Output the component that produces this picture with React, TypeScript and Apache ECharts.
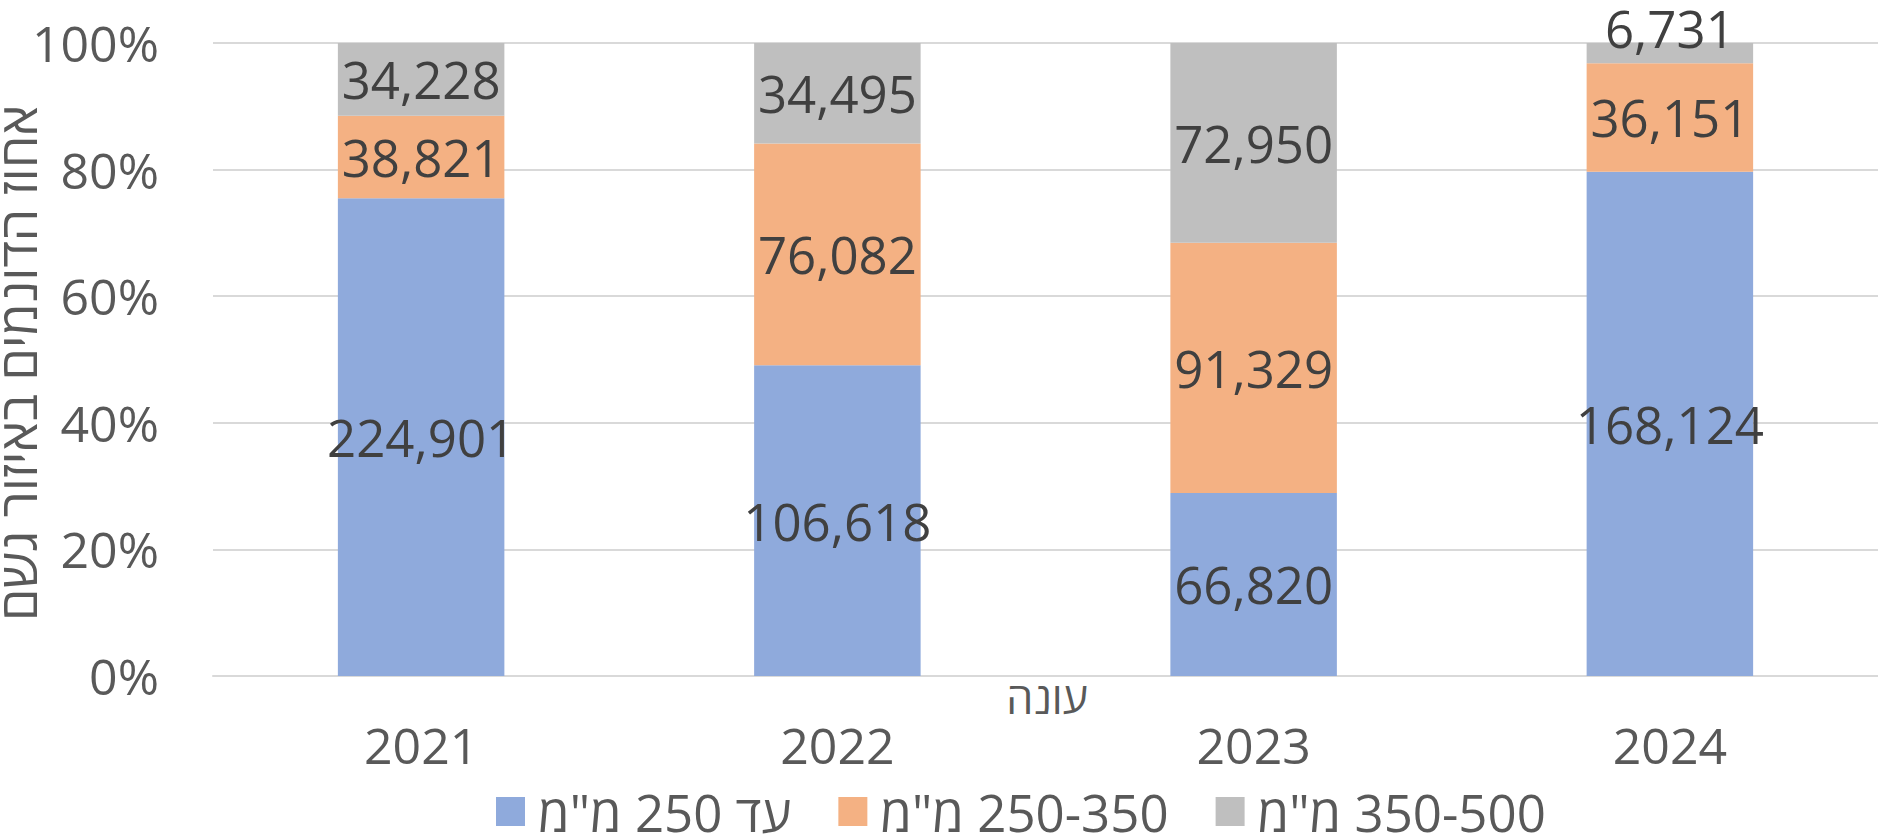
import React, { useEffect, useRef } from "react";
import * as echarts from "echarts";

const years = ["2021", "2022", "2023", "2024"];
const seriesNames = ['עד 250 מ"מ', '250-350 מ"מ', '350-500 מ"מ'];
const upTo250 = [224901, 106618, 66820, 168124];
const from250to350 = [38821, 76082, 91329, 36151];
const from350to500 = [34228, 34495, 72950, 6731];
const yTicksPercent = [0, 20, 40, 60, 80, 100];
const yAxisTitle = "אחוז הדונמים באיזור גשם";
const xAxisTitle = "עונה";

const colors = ["#8FAADC", "#F4B183", "#BFBFBF"];
const FONT = "'Open Sans', 'Liberation Sans', sans-serif";

export default function App() {
  const ref = useRef<HTMLDivElement>(null);
  useEffect(() => {
    if (!ref.current) return;
    const chart = echarts.init(ref.current, undefined, { renderer: "svg" });
    const raw = [upTo250, from250to350, from350to500];
    const totals = years.map((_, i) => raw.reduce((s, arr) => s + arr[i], 0));
    const series = raw.map((arr, si) => ({
      name: seriesNames[si],
      type: "bar",
      stack: "total",
      barWidth: "40%",
      itemStyle: { color: colors[si] },
      label: {
        show: true,
        position: "inside",
        fontSize: 51,
        fontFamily: FONT,
        color: "#404040",
        formatter: (p: any) => p.data.raw.toLocaleString("en-US"),
      },
      data: arr.map((v, i) => {
        const pct = (v / totals[i]) * 100;
        const item: any = { value: pct, raw: v };
        if (pct < 5) item.label = { offset: [0, -25] };
        return item;
      }),
    }));
    chart.setOption({
      animation: false,
      textStyle: { fontFamily: FONT },
      grid: { left: 213, top: 43, width: 1669, height: 633, containLabel: false },
      legend: {
        left: 491,
        top: 781,
        itemWidth: 29,
        itemHeight: 29,
        itemGap: 47,
        icon: "rect",
        formatter: (n: string) => "\u202B" + n + "\u202C",
        textStyle: { fontSize: 51, color: "#595959", fontFamily: FONT, padding: [0, 0, 0, 8] },
        data: seriesNames,
      },
      xAxis: {
        type: "category",
        data: years,
        axisLine: { show: true, lineStyle: { color: "#D9D9D9", width: 2 } },
        axisTick: { show: false },
        axisLabel: { fontSize: 50, color: "#595959", margin: 44, fontFamily: FONT },
      },
      yAxis: {
        type: "value",
        min: yTicksPercent[0],
        max: yTicksPercent[yTicksPercent.length - 1],
        interval: 20,
        axisLine: { show: false },
        axisTick: { show: false },
        splitLine: { lineStyle: { color: "#D9D9D9", width: 2 } },
        axisLabel: {
          fontSize: 50,
          color: "#595959",
          margin: 54,
          fontFamily: FONT,
          formatter: "{value}%",
        },
      },
      graphic: [
        {
          type: "text",
          x: 16,
          y: 363,
          rotation: Math.PI / 2,
          style: {
            text: yAxisTitle,
            fontSize: 52,
            fontFamily: FONT,
            fill: "#595959",
            textAlign: "center",
            textVerticalAlign: "middle",
          },
        },
        {
          type: "text",
          x: 1047,
          y: 697,
          style: {
            text: xAxisTitle,
            fontSize: 43,
            fontFamily: FONT,
            fill: "#595959",
            textAlign: "center",
            textVerticalAlign: "middle",
          },
        },
      ],
      series,
    });
    return () => chart.dispose();
  }, []);
  return (
    <div
      ref={ref}
      style={{ position: "absolute", left: 0, top: 0, width: 1878, height: 834 }}
    />
  );
}
